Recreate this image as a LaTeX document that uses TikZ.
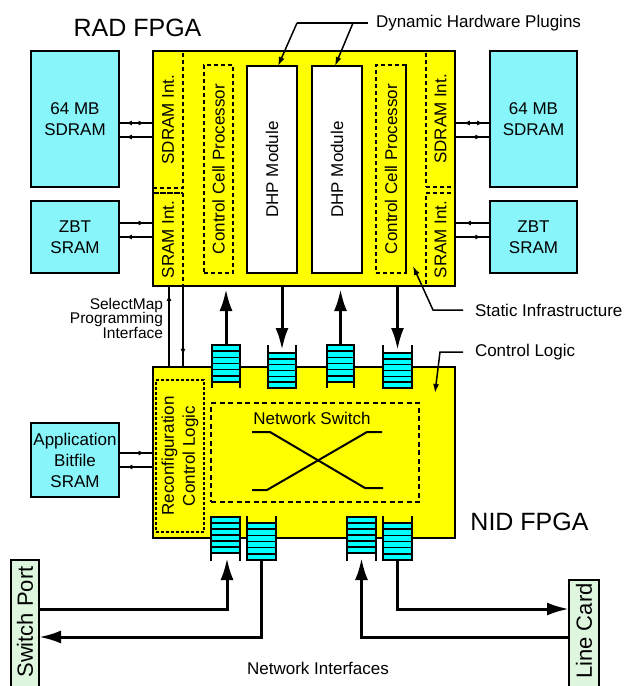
\documentclass[tikz,border=0pt]{standalone}
\usepackage{fontspec}
\setmainfont{Liberation Sans}
\usetikzlibrary{arrows.meta,decorations.markings}
\definecolor{memcyan}{RGB}{135,245,250}
\definecolor{qcyan}{RGB}{0,255,255}
\definecolor{fpgay}{RGB}{255,255,0}
\definecolor{portgreen}{RGB}{222,245,222}
\tikzset{
  every node/.style={inner sep=0pt,outer sep=0pt},
  txt/.style={font=\fontsize{17}{21}\selectfont,align=center},
  rtxt/.style={txt,rotate=90},
  ttl/.style={font=\fontsize{25}{30}\selectfont},
  mem/.style={draw,line width=2pt,fill=memcyan,anchor=north west,txt},
  fpga/.style={draw,line width=2.4pt,fill=fpgay,anchor=north west},
  dreg/.style={draw,line width=1.2pt,dash pattern=on 4pt off 3pt,anchor=north west},
  dhp/.style={draw,line width=2pt,fill=white,anchor=north west},
  port/.style={draw,line width=2pt,fill=portgreen,anchor=north west},
  porttxt/.style={font=\fontsize{22}{26}\selectfont,rotate=90},
  thinln/.style={line width=1.1pt},
  sa/.style={postaction={decorate,decoration={markings,mark=at position #1 with {\arrow{Latex[length=6pt,width=5pt]}}}}},
  sar/.style={postaction={decorate,decoration={markings,mark=at position #1 with {\arrowreversed{Latex[length=6pt,width=5pt]}}}}},
  bigarr/.style={line width=3pt,-{Latex[length=22pt,width=13pt]}},
  thickdash/.style={line width=2.2pt,dash pattern=on 4pt off 3pt},
  lead/.style={line width=1.5pt,-{Latex[length=9pt,width=6pt]}},
}
\newcommand\fifobox[6]{%
  \fill[qcyan] (#1,#3) rectangle (#2,#4);
  \foreach \k in {1,...,5}{\draw[line width=1.5pt] (#1,{#3+\k*(#4-#3)/6}) -- (#2,{#3+\k*(#4-#3)/6});}
  \draw[line width=1.5pt] (#1,#3) rectangle (#2,#4);
  \draw[line width=1.5pt] (#1,#5) -- (#1,#6) (#2,#5) -- (#2,#6);
}
\begin{document}
\begin{tikzpicture}[x=1pt,y=-1pt]
\useasboundingbox (0,0) rectangle (627,686);
\clip (0,0) rectangle (627,686);

% ---------- RAD FPGA ----------
\node[ttl] (radlbl) at (137.5,28) {RAD FPGA};
\node[fpga,minimum width=302pt,minimum height=235pt] (rad) at (153,51) {};
\node[dreg,minimum width=30pt,minimum height=137pt] (sdil) at (153,51) {};
\node[rtxt] (sdiltx) at (sdil.center) {SDRAM Int.};
\node[dreg,minimum width=30pt,minimum height=93pt] (sril) at (153,193) {};
\node[rtxt] (sriltx) at (sril.center) {SRAM Int.};
\node[dreg,minimum width=29pt,minimum height=208pt] (ccpl) at (204,65) {};
\node[rtxt] (ccpltx) at (ccpl.center) {Control Cell Processor};
\node[dhp,minimum width=50pt,minimum height=207pt] (dhpl) at (247,66) {};
\node[rtxt] (dhpltx) at (dhpl.center) {DHP Module};
\node[dhp,minimum width=50pt,minimum height=207pt] (dhpr) at (312,66) {};
\node[rtxt] (dhprtx) at (dhpr.center) {DHP Module};
\node[dreg,minimum width=30pt,minimum height=208pt] (ccpr) at (376,65) {};
\node[rtxt] (ccprtx) at (ccpr.center) {Control Cell Processor};
\node[dreg,minimum width=29pt,minimum height=136pt] (sdir) at (426,51) {};
\node[rtxt] (sdirtx) at (sdir.center) {SDRAM Int.};
\node[dreg,minimum width=29pt,minimum height=93pt] (srir) at (426,193) {};
\node[rtxt] (srirtx) at (srir.center) {SRAM Int.};
\draw[thickdash] (ccpr.north east) -- (ccpr.south east);
\draw[thickdash] (srir.north west) -- (srir.north east);
\draw[thickdash] (sril.north west) -- (sril.north east);
\draw[thickdash] (sdil.south west) -- (sdil.south east);

% ---------- memories ----------
\node[mem,minimum width=88pt,minimum height=136pt] (sdramL) at (31,51) {64 MB\\SDRAM};
\node[mem,minimum width=88pt,minimum height=72pt] (zbtL) at (31,201) {ZBT\\SRAM};
\node[mem,minimum width=87pt,minimum height=136pt] (sdramR) at (490,51) {64 MB\\SDRAM};
\node[mem,minimum width=87pt,minimum height=72pt] (zbtR) at (490,201) {ZBT\\SRAM};
\node[mem,minimum width=88pt,minimum height=74pt] (app) at (31,423) {Application\\Bitfile\\SRAM};

\draw[thinln,sar=0.2,sa=0.75] (sdramL.east |- 0,123) -- (rad.west |- 0,123);
\draw[thinln,sar=0.2] (sdramL.east |- 0,137) -- (rad.west |- 0,137);
\draw[thinln,sa=0.75] (zbtL.east |- 0,223) -- (rad.west |- 0,223);
\draw[thinln,sar=0.2] (zbtL.east |- 0,237) -- (rad.west |- 0,237);
\draw[thinln,sar=0.25,sa=0.8] (rad.east |- 0,123) -- (sdramR.west |- 0,123);
\draw[thinln,sa=0.75] (rad.east |- 0,137) -- (sdramR.west |- 0,137);
\draw[thinln,sar=0.28] (rad.east |- 0,223) -- (zbtR.west |- 0,223);
\draw[thinln,sa=0.75] (rad.east |- 0,237) -- (zbtR.west |- 0,237);

% ---------- NID FPGA ----------
\node[fpga,minimum width=302pt,minimum height=171pt] (nid) at (153,367) {};
\node[ttl] (nidlbl) at (529.5,522) {NID FPGA};
\node[draw,line width=1.8pt,dash pattern=on 3pt off 2pt,anchor=north west,minimum width=48pt,minimum height=152pt] (recon) at (156,380) {};
\node[rtxt] (recontx) at (recon.center) {Reconfiguration\\Control Logic};
\node[draw,line width=1.5pt,dash pattern=on 5pt off 3.5pt,anchor=north west,minimum width=208pt,minimum height=99pt] (nsw) at (211,403) {};
\node[txt] (nswlbl) at (312,418) {Network Switch};
\draw[line width=2pt] (252,432) -- (270,432) -- (365,488) -- (383,488);
\draw[line width=2pt] (252,490) -- (267,490) -- (367,432) -- (382,432);

\draw[thinln,sa=0.75] (app.east |- 0,453) -- (nid.west |- 0,453);
\draw[thinln,sar=0.22] (app.east |- 0,467) -- (nid.west |- 0,467);

% SelectMap
\node[font=\fontsize{15.5}{14.5}\selectfont,align=right,anchor=east] (smlbl) at (163,318) {SelectMap\\Programming\\Interface};
\draw[thinln,sa=0.89] (nid.north -| 169,0) -- (rad.south -| 169,0);
\draw[thinln,sa=0.85] (rad.south -| 183,0) -- (nid.north -| 183,0);

% ---------- queues ----------
\fifobox{212}{240}{345}{382}{345}{388}
\fifobox{268}{296}{353}{388}{345}{388}
\fifobox{327}{354}{345}{382}{345}{388}
\fifobox{383}{412}{353}{388}{345}{388}
\fifobox{211}{240}{517}{553}{517}{561}
\fifobox{247}{276}{523}{560}{516}{560}
\fifobox{347}{376}{517}{553}{517}{561}
\fifobox{383}{412}{523}{560}{516}{560}
\coordinate (q1p) at (226,345);
\coordinate (q2p) at (282,350);
\coordinate (q3p) at (340.5,345);
\coordinate (q4p) at (397.5,350);
\coordinate (qap) at (227,558);
\coordinate (qbp) at (261.5,560);
\coordinate (qcp) at (361.5,558);
\coordinate (qdp) at (397.5,560);

\draw[bigarr,shorten >=3pt] (q1p) -- (q1p |- rad.south);
\draw[bigarr] (q2p |- rad.south) -- (q2p);
\draw[bigarr,shorten >=3pt] (q3p) -- (q3p |- rad.south);
\draw[bigarr] (q4p |- rad.south) -- (q4p);

% ---------- ports ----------
\node[port,minimum width=28pt,minimum height=135pt] (sp) at (11,560) {};
\node[porttxt] (sptx) at (25,622) {Switch Port};
\node[port,minimum width=30pt,minimum height=115pt] (lc) at (569,580) {};
\node[porttxt] (lctx) at (584,631) {Line Card};
\draw[bigarr] (sp.east |- 0,609) -| (qap);
\draw[bigarr] (qbp) |- (sp.east |- 0,637);
\draw[bigarr] (qdp) |- (lc.west |- 0,609);
\draw[bigarr] (lc.west |- 0,637) -| (qcp);
\node[txt] (nilbl) at (318,668) {Network Interfaces};

% ---------- leader labels ----------
\node[txt,anchor=west,inner xsep=8pt] (dhplbl) at (368,23) {Dynamic Hardware Plugins};
\coordinate (dj1) at (297,23);
\coordinate (dj2) at (353,23);
\draw[line width=1.5pt] (dhplbl.west) -- (dj1);
\draw[lead] (dj1) -- (dhpl.north -| 278,0);
\draw[lead] (dj2) -- (dhpr.north -| 335,0);

\node[txt,anchor=west,inner xsep=12pt] (silbl) at (463,310) {Static Infrastructure};
\coordinate (sibend) at (433,310);
\coordinate (sitip) at (413,266);
\draw[lead] (silbl.west) -- (sibend) -- (sitip);

\node[txt,anchor=west,inner xsep=12pt] (cllbl) at (463,352) {Control Logic};
\coordinate (clbend) at (440,352);
\coordinate (cltip) at (435,393);
\draw[lead] (cllbl.west) -- (clbend) -- (cltip);
\end{tikzpicture}
\end{document}
